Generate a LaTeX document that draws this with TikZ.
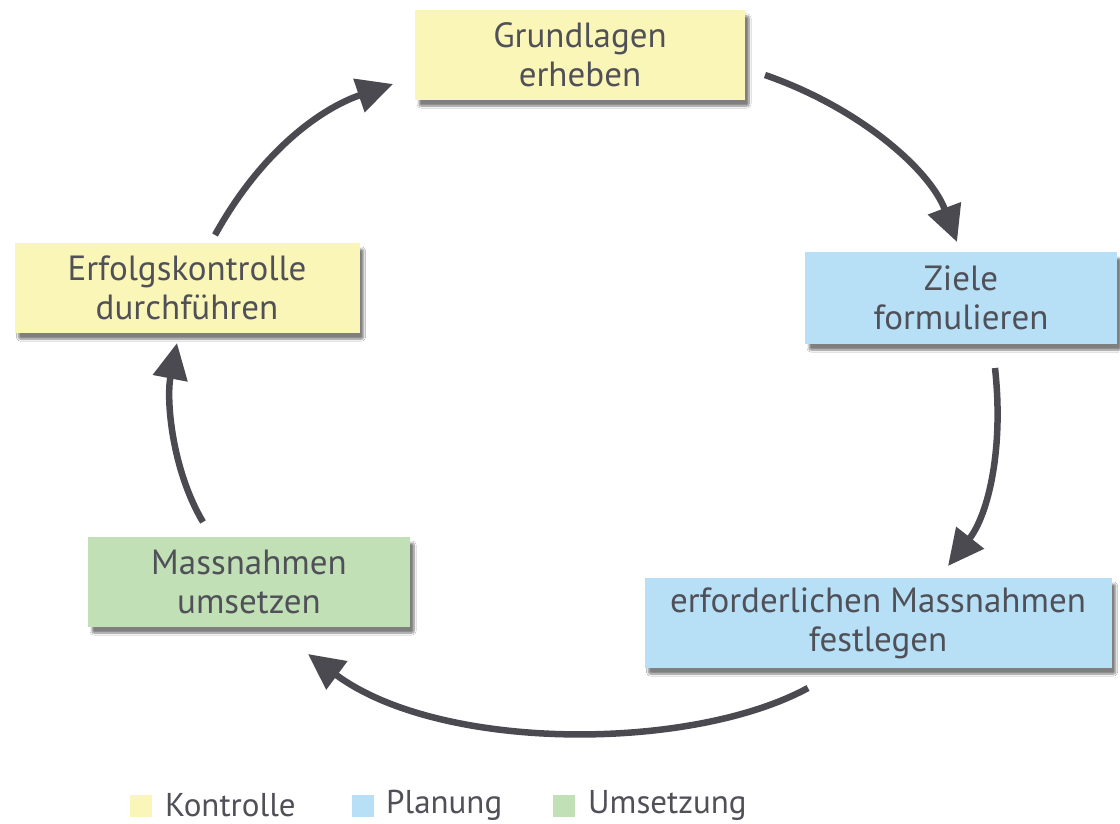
\documentclass[tikz,border=0pt]{standalone}
\usepackage{fontspec}
\setmainfont{PT Sans}
\usetikzlibrary{arrows.meta,shadows.blur}
\definecolor{kyellow}{RGB}{250,246,184}
\definecolor{pblue}{RGB}{183,223,246}
\definecolor{ugreen}{RGB}{193,224,182}
\definecolor{txt}{RGB}{80,80,88}
\definecolor{arr}{RGB}{74,74,80}
\tikzset{
  box/.style={draw=none, inner sep=0pt, align=center, text=txt,
    font=\fontsize{35}{39}\selectfont,
    blur shadow={shadow blur steps=8, shadow blur extra rounding=2pt, shadow xshift=4pt, shadow yshift=-6pt, shadow opacity=50}},
  cyc/.style={draw=arr, line width=6.5pt, -{Triangle[length=36pt,width=34pt]}},
  legsq/.style={fill=#1, draw=none, minimum size=22pt, inner sep=0pt},
  legtx/.style={text=txt, font=\fontsize{33}{36}\selectfont, anchor=west, inner sep=0pt}
}
\begin{document}
\begin{tikzpicture}[x=1pt,y=-1pt]
\useasboundingbox (0,0) rectangle (1120,824);
\fill[white] (0,0) rectangle (1120,824);
% boxes
\node[box, fill=kyellow, minimum width=330pt, minimum height=90pt] (g) at (580,55) {Grundlagen\\erheben};
\node[box, fill=pblue, minimum width=312pt, minimum height=92pt] (z) at (961,298) {Ziele\\formulieren};
\node[box, fill=pblue, minimum width=467pt, minimum height=90pt] (m) at (878,623) {erforderlichen Massnahmen\\festlegen};
\node[box, fill=ugreen, minimum width=322pt, minimum height=90pt] (u) at (249,582) {Massnahmen\\umsetzen};
\node[box, fill=kyellow, minimum width=345pt, minimum height=90pt] (e) at (187,288) {Erfolgskontrolle\\durchführen};
% connector end points
\coordinate (g1) at (765,75);
\coordinate (z0) at (957,242);
\coordinate (z1) at (995,368);
\coordinate (m0) at (948,566);
\coordinate (m1) at (808,688);
\coordinate (u0) at (308,654);
\coordinate (u1) at (203,522);
\coordinate (e0) at (177,343);
\coordinate (e1) at (215,235);
\coordinate (g0) at (393,84);
\draw[cyc] (g1) .. controls (860,108) and (930,170) .. (z0);
\draw[cyc] (z1) .. controls (1004,450) and (988,515) .. (m0);
\draw[cyc] (m1) .. controls (690,752) and (440,752) .. (u0);
\draw[cyc] (u1) .. controls (172,470) and (166,400) .. (e0);
\draw[cyc] (e1) .. controls (262,150) and (322,108) .. (g0);
% legend
\node[legsq=kyellow] (lk) at (141,806) {};
\node[legtx] (tk) at (165,805) {Kontrolle};
\node[legsq=pblue] (lp) at (363,806) {};
\node[legtx] (tp) at (386,805) {Planung};
\node[legsq=ugreen] (lu) at (564,806) {};
\node[legtx] (tu) at (588,805) {Umsetzung};
\end{tikzpicture}
\end{document}
